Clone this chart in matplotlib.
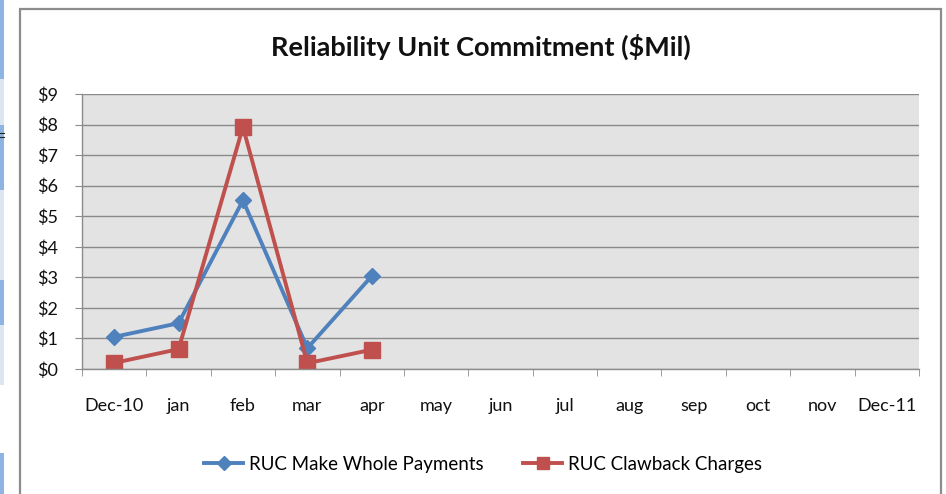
import matplotlib.pyplot as plt
import numpy as np
from matplotlib.patches import Rectangle

months = ["Dec-10", "jan", "feb", "mar", "apr", "may", "jun", "jul",
          "aug", "sep", "oct", "nov", "Dec-11"]
make_whole = [1.05, 1.5, 5.52, 0.68, 3.04]
clawback = [0.2, 0.65, 7.92, 0.19, 0.63]
y_ticks = list(range(0, 10))

plt.rcParams["font.family"] = ["Lato", "DejaVu Sans"]

fig = plt.figure(figsize=(9.46, 4.94), dpi=100)

# strips of the page behind the chart on the left edge
strips = [(0, 79, "#8DB4E2"), (79, 125, "#DCE6F1"), (125, 190, "#8DB4E2"),
          (190, 280, "#DCE6F1"), (280, 325, "#8DB4E2"), (325, 385, "#DCE6F1"),
          (453, 494, "#8DB4E2")]
for y0, y1, c in strips:
    fig.patches.append(Rectangle((0, 1 - y1 / 494), 4 / 946, (y1 - y0) / 494,
                                 transform=fig.transFigure, color=c, lw=0))
for yy in (133, 136.5):
    fig.lines.append(plt.Line2D([0, 4 / 946], [1 - yy / 494] * 2, transform=fig.transFigure,
                                color="#222222", lw=0.8))

# chart frame
fig.patches.append(Rectangle((19.5 / 946, -0.05), 921 / 946, 1.05 - 8.5 / 494,
                             transform=fig.transFigure, fill=False,
                             edgecolor="#8c8c8c", lw=1.6))

ax = fig.add_axes([82 / 946, 1 - 369 / 494, 837 / 946, 275 / 494])
ax.set_facecolor("#E3E3E3")

x = np.arange(len(make_whole))
ax.plot(x, make_whole, color="#4F81BD", lw=2.8, marker="D", markersize=8,
        label="RUC Make Whole Payments")
ax.plot(x, clawback, color="#C0504D", lw=2.8, marker="s", markersize=11,
        label="RUC Clawback Charges")

ax.set_xlim(-0.5, len(months) - 0.5)
ax.set_ylim(0, 9)
ax.set_yticks(y_ticks)
ax.set_yticklabels([f"${v}" for v in y_ticks])
ax.set_xticks(range(len(months)))
ax.set_xticklabels(months)
ax.set_xticks(np.arange(-0.5, len(months)), minor=True)
ax.tick_params(axis="x", which="major", length=0, pad=21, labelsize=13, colors="#111111")
ax.tick_params(axis="x", which="minor", length=5, color="#8c8c8c")
ax.tick_params(axis="y", length=5, color="#8c8c8c", pad=12, labelsize=13, labelcolor="#111111")
ax.yaxis.grid(True, color="#8a8a8a", lw=1.0)
ax.set_axisbelow(True)
for s in ("top", "right"):
    ax.spines[s].set_visible(False)
for s in ("left", "bottom"):
    ax.spines[s].set_color("#8c8c8c")
    ax.spines[s].set_linewidth(1.0)

fig.text(481 / 946, 1 - 47 / 494, "Reliability Unit Commitment ($Mil)",
         ha="center", va="center", fontsize=19.5, fontweight="bold", color="#111111")

fig.legend(loc="center", bbox_to_anchor=(483 / 946, 1 - 464 / 494), ncol=2,
           frameon=False, fontsize=13.5, handlelength=2.1, handletextpad=0.3,
           columnspacing=2.1, markerscale=0.85)

fig.savefig("out.png", dpi=100)
